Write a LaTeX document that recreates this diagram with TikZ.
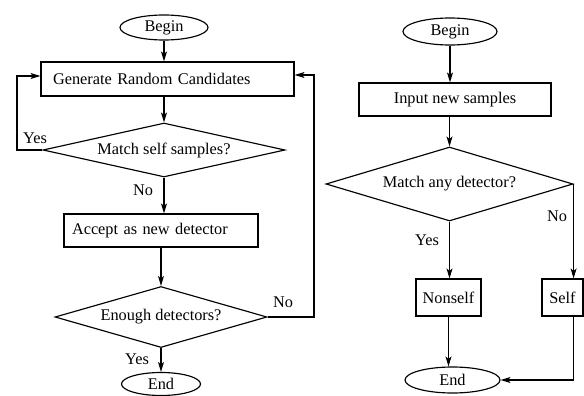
\documentclass[tikz,border=0pt]{standalone}
\usepackage{fontspec}
\setmainfont{Liberation Serif}
\usetikzlibrary{shapes.geometric,arrows.meta}
\begin{document}
\begin{tikzpicture}[x=1pt,y=-1pt,
  every node/.style={font=\fontsize{16.3}{19}\selectfont},
  lw/.style={line width=1.15pt},
  term/.style={draw,lw,ellipse,inner sep=0pt},
  proc/.style={draw,lw,rectangle,inner sep=0pt},
  dec/.style={draw,lw,diamond,inner sep=0pt},
  conn/.style={lw,-{Stealth[length=10pt,width=6pt,inset=2.5pt]}},
  line/.style={lw},
  lab/.style={inner sep=0pt}]
\useasboundingbox (0,0) rectangle (584,396);
% left chart
\node[term,minimum width=88,minimum height=25] (lb) at (164,27.5) {Begin};
\node[proc,minimum width=253,minimum height=34,text width=229,align=left,inner xsep=12] (gen) at (167.5,79) {Generate Random Candidates};
\node[dec,minimum width=242,minimum height=54,aspect=4.48] (m1) at (164,150) {Match self samples?};
\node[proc,minimum width=194,minimum height=33,text width=178,align=left,inner xsep=8] (acc) at (161,230.5) {Accept as new detector};
\node[dec,minimum width=212,minimum height=61,aspect=3.48] (en) at (161,317) {Enough detectors?};
\node[term,minimum width=79,minimum height=23] (le) at (161,384) {End};
\coordinate (yl) at (17,76);
\coordinate (nr) at (314,75);
\draw[conn] (lb.south) -- (lb.south |- gen.north);
\draw[conn] (m1.north |- gen.south) -- (m1.north);
\draw[conn] (m1.south) -- (m1.south |- acc.north);
\draw[conn] (acc.south -| en.north) -- (en.north);
\draw[conn] (en.south) -- (le.north);
\draw[conn] (m1.west) -| (yl) -- (yl -| gen.west);
\draw[conn] (en.east) -| (nr) -- (nr -| gen.east);
\node[lab] (ly1) at (35,138) {Yes};
\node[lab] (ln1) at (143,190) {No};
\node[lab] (ln2) at (283,302) {No};
\node[lab] (ly2) at (137,359) {Yes};
% right chart
\node[term,minimum width=94,minimum height=27] (rb) at (450,31.5) {Begin};
\node[proc,minimum width=192,minimum height=33] (inp) at (455,99.5) {Input new samples};
\node[dec,minimum width=247,minimum height=74,aspect=3.34] (m2) at (449.5,184) {Match any detector?};
\node[proc,minimum width=65,minimum height=37] (ns) at (448.5,297.5) {Nonself};
\node[proc,minimum width=41,minimum height=37] (sf) at (562.5,297.5) {Self};
\node[term,minimum width=95,minimum height=26] (re) at (452.5,380) {End};
\draw[conn] (rb.south) -- (rb.south |- inp.north);
\draw[conn] (m2.north |- inp.south) -- (m2.north);
\draw[conn] (m2.south) -- (m2.south |- ns.north);
\draw[conn] (m2.east) -- (m2.east |- sf.north);
\draw[conn] (ns.south) -- (ns.south |- re.north);
\draw[conn] (sf.south -| m2.east) |- (re.east);
\node[lab] (ry) at (427,240) {Yes};
\node[lab] (rn) at (557,216) {No};
\end{tikzpicture}
\end{document}
